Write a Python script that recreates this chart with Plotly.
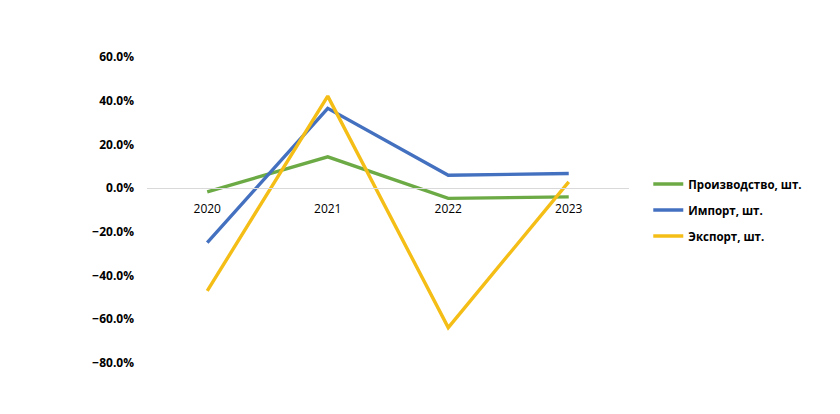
import plotly.graph_objects as go

years = ["2020", "2021", "2022", "2023"]
production = [-0.017, 0.143, -0.047, -0.040]
imports = [-0.249, 0.365, 0.059, 0.067]
exports = [-0.470, 0.421, -0.638, 0.029]

series_names = ["Производство, шт.", "Импорт, шт.", "Экспорт, шт."]
series_values = [production, imports, exports]
colors = ["#6CAA45", "#4470C0", "#F4BE17"]

fig = go.Figure()
for i, (name, vals, col) in enumerate(zip(series_names, series_values, colors)):
    fig.add_trace(go.Scatter(
        x=years, y=vals, mode="lines", name=name,
        line=dict(color=col, width=3.4),
        legendgroup=f"g{i}",
    ))

fig.update_layout(
    width=840, height=414,
    margin=dict(l=139, r=219, t=49, b=59),
    paper_bgcolor="white", plot_bgcolor="white",
    font=dict(family="Open Sans", color="#000000"),
    showlegend=True,
    legend=dict(
        x=1.04, y=0.5, xanchor="left", yanchor="middle",
        font=dict(size=11.5, family="Open Sans", color="#000000", weight="bold"),
        traceorder="grouped", tracegroupgap=7,
        bgcolor="rgba(0,0,0,0)",
    ),
    xaxis=dict(
        type="category",
        range=[-0.5, 3.5],
        anchor="free", position=0.8 / 1.4,
        showline=True, linecolor="#D9D9D9", linewidth=1.2,
        showgrid=False, ticks="", ticklabelstandoff=9,
        tickfont=dict(size=12, family="Open Sans", color="#000000"),
        zeroline=False,
    ),
    yaxis=dict(
        range=[-0.8, 0.6],
        tickvals=[-0.8, -0.6, -0.4, -0.2, 0.0, 0.2, 0.4, 0.6],
        tickformat=".1%",
        showgrid=False, zeroline=False, showline=False,
        ticks="", ticklabelstandoff=12,
        tickfont=dict(size=12, family="Open Sans", color="#000000", weight="bold"),
    ),
)

fig.write_html("out.html")
